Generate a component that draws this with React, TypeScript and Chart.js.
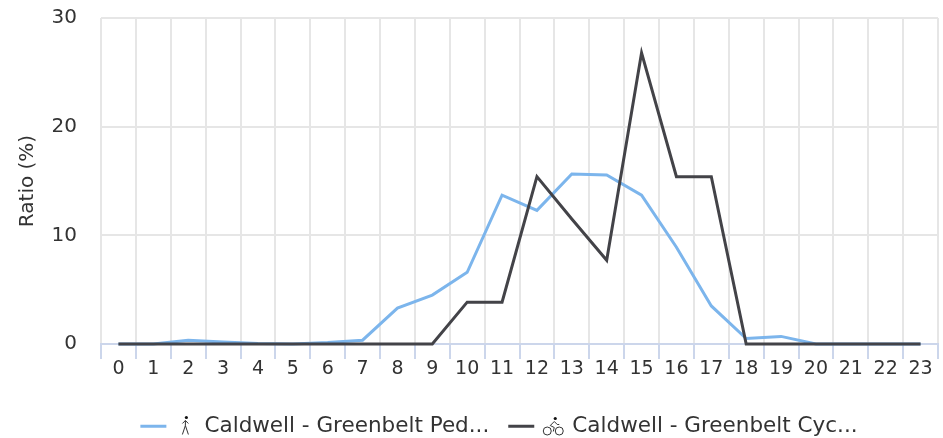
import React, { useEffect, useRef } from "react";
import { Chart, registerables } from "chart.js";

Chart.register(...registerables);

const hours = ["0","1","2","3","4","5","6","7","8","9","10","11","12","13","14","15","16","17","18","19","20","21","22","23"];
const pedestrian = [0,0,0.35,0.18,0.05,0,0.13,0.35,3.3,4.5,6.6,13.7,12.3,15.65,15.55,13.7,8.9,3.5,0.5,0.7,0,0,0,0];
const cyclist = [0,0,0,0,0,0,0,0,0,0,3.85,3.85,15.4,11.5,7.7,26.8,15.4,15.4,0,0,0,0,0,0];
const seriesNames = ["Caldwell - Greenbelt Ped...", "Caldwell - Greenbelt Cyc..."];
const FONT = "'DejaVu Sans', sans-serif";
const LEGEND_SHIFT = 22;
const ICON_OFFSET = 45;

function drawWalker(c: CanvasRenderingContext2D, x: number, y: number) {
  c.save();
  c.translate(x, y);
  c.strokeStyle = "#333";
  c.fillStyle = "#111";
  c.lineWidth = 1;
  c.beginPath(); c.arc(1, -9, 1.6, 0, Math.PI * 2); c.fill();
  c.beginPath();
  c.moveTo(0, -6); c.lineTo(-3, -3); c.moveTo(0, -6); c.lineTo(3, -3);
  c.moveTo(0, -6); c.lineTo(0, -1); c.lineTo(-3, 8); c.moveTo(0, -1); c.lineTo(3, 8);
  c.stroke();
  c.restore();
}

function drawCyclist(c: CanvasRenderingContext2D, x: number, y: number) {
  c.save();
  c.translate(x, y);
  c.strokeStyle = "#333";
  c.fillStyle = "#111";
  c.lineWidth = 1;
  c.beginPath(); c.arc(-6, 4.5, 4, 0, Math.PI * 2); c.stroke();
  c.beginPath(); c.arc(6, 4.5, 4, 0, Math.PI * 2); c.stroke();
  c.beginPath(); c.arc(2, -8, 1.6, 0, Math.PI * 2); c.fill();
  c.beginPath();
  c.moveTo(1, -5); c.lineTo(-3, -1); c.lineTo(1, 1); c.lineTo(0, 5);
  c.moveTo(1, -5); c.lineTo(4, -2); c.lineTo(6, -2);
  c.stroke();
  c.restore();
}

const legendIcons = {
  id: "legendIcons",
  afterLayout(chart: any) {
    const l = chart.legend;
    l.left += LEGEND_SHIFT;
    l.right += LEGEND_SHIFT;
    l.legendHitBoxes.forEach((b: any) => { b.left += LEGEND_SHIFT; });
  },
  afterDraw(chart: any) {
    const boxes = chart.legend?.legendHitBoxes;
    if (!boxes) return;
    const c = chart.ctx;
    drawWalker(c, boxes[0].left + ICON_OFFSET, boxes[0].top + 11);
    drawCyclist(c, boxes[1].left + ICON_OFFSET, boxes[1].top + 11);
  },
};

export default function App() {
  const ref = useRef<HTMLCanvasElement>(null);
  useEffect(() => {
    const chart = new Chart(ref.current!, {
      type: "line",
      data: {
        labels: hours,
        datasets: [
          { label: "    " + seriesNames[0], data: pedestrian, borderColor: "#7cb5ec", backgroundColor: "#7cb5ec", borderWidth: 3, pointRadius: 0, tension: 0, clip: false, order: 2 },
          { label: "    " + seriesNames[1], data: cyclist, borderColor: "#434348", backgroundColor: "#434348", borderWidth: 3, pointRadius: 0, tension: 0, clip: false, order: 1 },
        ],
      },
      options: {
        responsive: false,
        animation: false,
        layout: { padding: { top: 18, right: 5, bottom: -9, left: 16 } },
        plugins: {
          tooltip: { enabled: false },
          legend: {
            position: "bottom",
            labels: {
              boxWidth: 26,
              boxHeight: 3,
              padding: 19,
              color: "#333333",
              font: { family: FONT, size: 21.5, weight: "400" },
              sort: (a: any, b: any) => a.datasetIndex - b.datasetIndex,
              generateLabels: (chart: any) =>
                Chart.defaults.plugins.legend.labels.generateLabels(chart).map((i: any) => ({ ...i, lineWidth: 0 })),
            },
          },
        },
        scales: {
          x: {
            offset: true,
            afterFit: (s: any) => { s.height = 52.5; },
            grid: { offset: true, color: "#e6e6e6", lineWidth: 2, tickColor: "#ccd6eb", tickLength: 15, tickWidth: 2 },
            border: { color: "#ccd6eb", width: 2 },
            ticks: { color: "#333333", padding: -1, autoSkip: false, maxRotation: 0, font: { family: FONT, size: 19 } },
          },
          y: {
            min: 0,
            max: 30,
            afterFit: (s: any) => { s.width = 85; s.paddingTop = 0; s.paddingBottom = 0; },
            grid: { color: "#e6e6e6", lineWidth: 2, drawTicks: false },
            border: { display: false },
            ticks: { stepSize: 10, color: "#333333", padding: 24, font: { family: FONT, size: 20 } },
            title: { display: true, text: "Ratio (%)", color: "#333333", padding: 0, font: { family: FONT, size: 20 } },
          },
        },
      },
      plugins: [legendIcons],
    } as any);
    return () => chart.destroy();
  }, []);
  return (
    <div style={{ position: "fixed", left: 0, top: 0, width: 943, height: 438, background: "#fff" }}>
      <canvas ref={ref} width={943} height={438} style={{ display: "block" }} />
    </div>
  );
}
